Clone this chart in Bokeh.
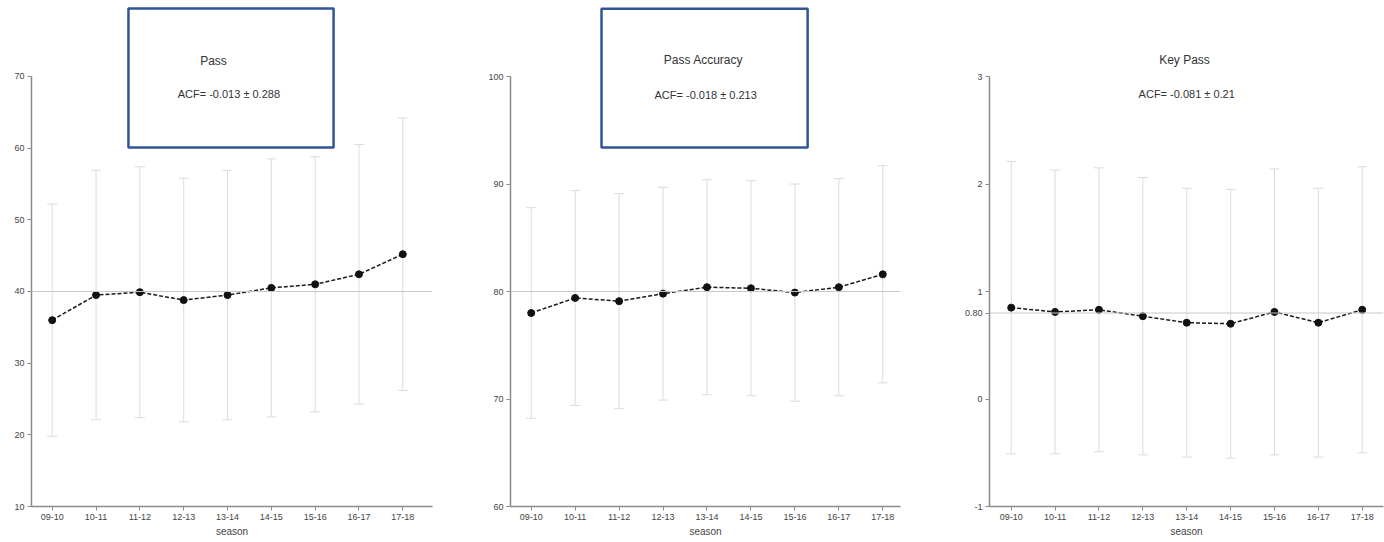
from bokeh.plotting import figure
from bokeh.layouts import row
from bokeh.models import (ColumnDataSource, Whisker, TeeHead, Span, Label,
                          BoxAnnotation, FixedTicker, Range1d)
from bokeh.embed import file_html
from bokeh.resources import INLINE

# ---- data -------------------------------------------------------------
seasons = ["09-10", "10-11", "11-12", "12-13", "13-14",
           "14-15", "15-16", "16-17", "17-18"]

pass_mean = [36.0, 39.5, 39.9, 38.8, 39.5, 40.5, 41.0, 42.4, 45.2]
pass_sd = [16.2, 17.4, 17.5, 17.0, 17.4, 18.0, 17.8, 18.1, 19.0]
pass_ref = 40
pass_acf = "ACF= -0.013 ± 0.288"
pass_ticks = [10, 20, 30, 40, 50, 60, 70]

acc_mean = [78.0, 79.4, 79.1, 79.8, 80.4, 80.3, 79.9, 80.4, 81.6]
acc_sd = [9.8, 10.0, 10.0, 9.9, 10.0, 10.0, 10.1, 10.1, 10.1]
acc_ref = 80
acc_acf = "ACF= -0.018 ± 0.213"
acc_ticks = [60, 70, 80, 90, 100]

key_mean = [0.85, 0.81, 0.83, 0.77, 0.71, 0.70, 0.81, 0.71, 0.83]
key_sd = [1.36, 1.32, 1.32, 1.29, 1.25, 1.25, 1.33, 1.25, 1.33]
key_ref = 0.80
key_acf = "ACF= -0.081 ± 0.21"
key_ticks = [-1, 0, 0.8, 1, 2, 3]
key_tick_labels = ["-1", "0", "0.80", "1", "2", "3"]

FONT = "Liberation Sans"
TEXT = "#444444"
AXIS = "#8a8a8a"
BOX = "#2f5597"


def panel(title, acf, means, sds, ref, ticks, tick_labels, width,
          border_left, border_right, xr, yr, title_xy, acf_xy, box=None):
    xs = list(range(1, len(seasons) + 1))
    src = ColumnDataSource(dict(
        x=xs, mean=means,
        upper=[m + s for m, s in zip(means, sds)],
        lower=[m - s for m, s in zip(means, sds)],
    ))
    p = figure(width=width, height=542, output_backend="svg",
               toolbar_location=None, x_range=Range1d(*xr),
               y_range=Range1d(*yr), min_border_left=border_left,
               min_border_right=border_right, min_border_top=0,
               min_border_bottom=36)
    p.outline_line_color = None
    p.grid.visible = False
    p.background_fill_color = "white"

    # reference level
    p.add_layout(Span(location=ref, dimension="width",
                      line_color="#c8c8c8", line_width=1))

    # +/- SD bars
    p.add_layout(Whisker(source=src, base="x", upper="upper", lower="lower",
                         line_color="#dcdcdc", line_width=1,
                         upper_head=TeeHead(size=10, line_color="#dcdcdc",
                                            line_width=1),
                         lower_head=TeeHead(size=10, line_color="#dcdcdc",
                                            line_width=1)))

    p.line("x", "mean", source=src, line_color="#1a1a1a", line_width=1.5,
           line_dash="4 2")
    p.scatter("x", "mean", source=src, size=7, color="#111111")

    # axes
    p.xaxis.ticker = FixedTicker(ticks=xs)
    p.xaxis.major_label_overrides = {x: s for x, s in zip(xs, seasons)}
    p.xaxis.axis_label = "season"
    p.yaxis.ticker = FixedTicker(ticks=ticks)
    p.yaxis.major_label_overrides = {t: l for t, l in zip(ticks, tick_labels)}
    p.yaxis.bounds = (min(ticks), max(ticks))
    for ax in (p.xaxis[0], p.yaxis[0]):
        ax.axis_line_color = AXIS
        ax.axis_line_width = 1.5
        ax.major_tick_line_color = AXIS
        ax.major_tick_out = 4
        ax.major_tick_in = 0
        ax.minor_tick_line_color = None
        ax.major_label_text_font = FONT
        ax.major_label_text_font_size = "9px"
        ax.major_label_text_color = TEXT
        ax.major_label_standoff = 3
    p.xaxis.axis_label_text_font = FONT
    p.xaxis.axis_label_text_font_size = "10px"
    p.xaxis.axis_label_text_font_style = "normal"
    p.xaxis.axis_label_text_color = TEXT
    p.xaxis.axis_label_standoff = 3

    p.add_layout(Label(x=title_xy[0], y=title_xy[1], text=title,
                       text_font=FONT, text_font_size="12px",
                       text_color="#333333", text_align="center",
                       text_baseline="middle"))
    p.add_layout(Label(x=acf_xy[0], y=acf_xy[1], text=acf,
                       text_font=FONT, text_font_size="11px",
                       text_color="#333333", text_align="center",
                       text_baseline="middle"))
    if box is not None:
        p.add_layout(BoxAnnotation(left=box[0], right=box[1], top=box[2],
                                   bottom=box[3], fill_color=None,
                                   fill_alpha=0, line_color=BOX,
                                   line_alpha=1.0, line_width=2.5))
    return p


p1 = panel("Pass", pass_acf, pass_mean, pass_sd, pass_ref, pass_ticks,
           [str(t) for t in pass_ticks], 461, 31, 29,
           (0.528, 9.677), (10, 80.6), (4.68, 72.2), (5.03, 67.5),
           box=(2.74, 7.42, 79.5, 60.1))
p2 = panel("Pass Accuracy", acc_acf, acc_mean, acc_sd, acc_ref, acc_ticks,
           [str(t) for t in acc_ticks], 461, 49, 22,
           (0.529, 9.403), (60, 107.07), (4.92, 101.5), (4.97, 98.3),
           box=(2.60, 7.29, 106.3, 93.4))
p3 = panel("Key Pass", key_acf, key_mean, key_sd, key_ref, key_ticks,
           key_tick_labels, 462, 67, 1,
           (0.505, 9.485), (-1, 3.707), (4.95, 3.149), (5.0, 2.833))

layout = row(p1, p2, p3)
open("out.html", "w").write(file_html(layout, INLINE))
